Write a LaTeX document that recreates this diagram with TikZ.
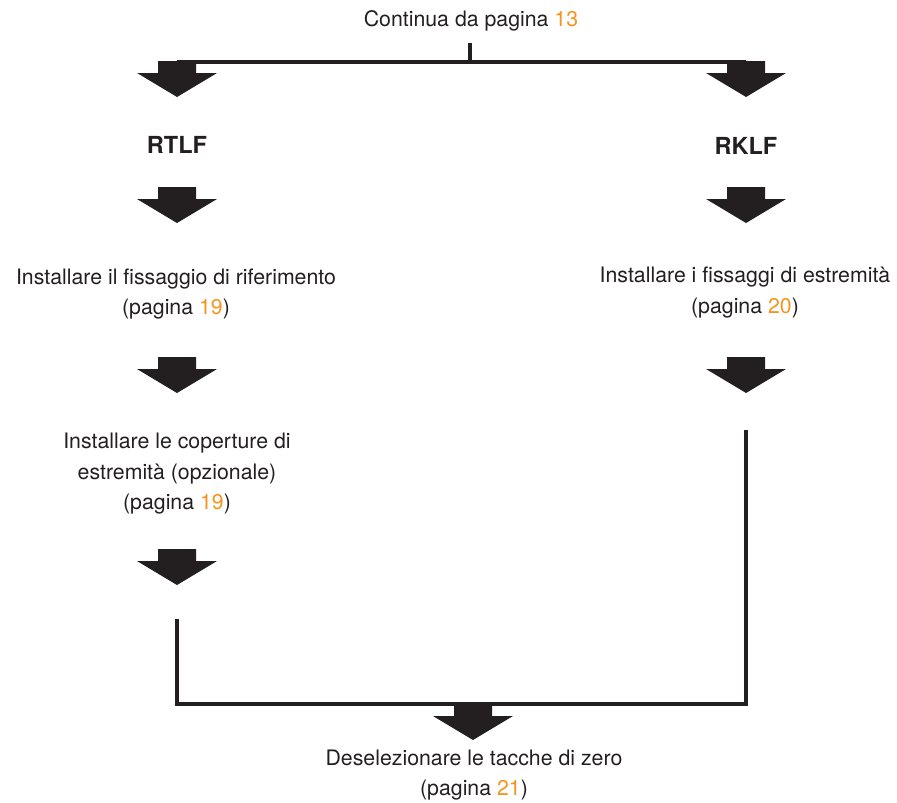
\documentclass[tikz,border=0pt]{standalone}
\usepackage{fontspec}
\setmainfont{TeX Gyre Heros}
\usetikzlibrary{calc}

\definecolor{ink}{HTML}{231F20}
\definecolor{pagenum}{HTML}{F7941D}
\newcommand{\pg}[1]{\textcolor{pagenum}{#1}}

\tikzset{
  stepText/.style={align=center, text=ink, inner sep=0pt,
    font=\fontsize{21.3}{30.5}\selectfont},
  stepHead/.style={text=ink, inner sep=0pt,
    font=\fontsize{23.5}{28}\selectfont\bfseries},
  flowLine/.style={draw=ink, line width=4.5pt, line join=miter},
  blockArrow/.pic={
    \fill[ink] (-19,0) -- (19,0) -- (19,12) -- (40,12) -- (0,36)
      -- (-40,12) -- (-19,12) -- cycle;
  }
}

\begin{document}
\begin{tikzpicture}[x=1pt,y=-1pt]
  % \draw[step=50,thin,gray!40] (0,0) grid (897,803);
  \useasboundingbox (0,0) rectangle (897,803);

  \node[stepText] (start) at (471,21) {Continua da pagina \pg{13}};
  \coordinate (tick) at (470,43);
  \coordinate (barL) at (177,62);
  \coordinate (barR) at (746,62);
  \draw[flowLine] (barL) -- (barR);
  \draw[flowLine] (tick) -- (tick |- barL);

  % left branch
  \pic (arrL1) at (177,61) {blockArrow};
  \node[stepHead] (rtlf) at (177,145) {RTLF};
  \pic (arrL2) at (177,187) {blockArrow};
  \node[stepText] (fixRef) at (176,294) {Installare il fissaggio di riferimento\\(pagina \pg{19})};
  \pic (arrL3) at (177,357) {blockArrow};
  \node[stepText] (endCap) at (177,474) {Installare le coperture di\\estremit\`a (opzionale)\\(pagina \pg{19})};
  \pic (arrL4) at (177,549) {blockArrow};

  % right branch
  \pic (arrR1) at (746,61) {blockArrow};
  \node[stepHead] (rklf) at (746,146) {RKLF};
  \pic (arrR2) at (746,187) {blockArrow};
  \node[stepText] (fixEnd) at (745,292.5) {Installare i fissaggi di estremit\`a\\(pagina \pg{20})};
  \pic (arrR3) at (746,357) {blockArrow};

  % merge
  \coordinate (downR) at (746,430);
  \coordinate (downL) at (177,619);
  \coordinate (joinY) at (473,704);
  \draw[flowLine] (downR) |- (joinY) -| (downL);
  \pic (arrEnd) at (473,704) {blockArrow};
  \node[stepText] (zero) at (474,775) {Deselezionare le tacche di zero\\(pagina \pg{21})};
\end{tikzpicture}
\end{document}
